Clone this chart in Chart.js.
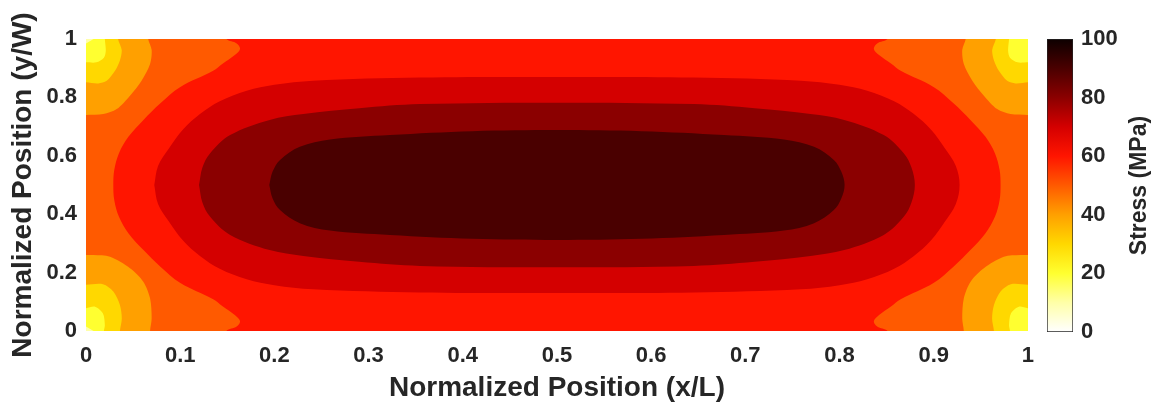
<!DOCTYPE html>
<html>
<head>
<meta charset="utf-8">
<title>Stress contour</title>
<script src="https://cdn.jsdelivr.net/npm/chart.js@4.4.0/dist/chart.umd.min.js"></script>
<style>
  html, body { margin: 0; padding: 0; background: #fff; }
  #wrap { position: relative; width: 1162px; height: 405px; }
  #plotBox { position: absolute; left: 0; top: 0; }
  #barBox { position: absolute; left: 1040px; top: 0; }
</style>
</head>
<body>
<div id="wrap">
  <div id="plotBox"><canvas id="contour" width="1046" height="405"></canvas></div>
  <div id="barBox"><canvas id="colorbar" width="122" height="405"></canvas></div>
</div>
<script>
// Tick labels
const xTickLabels = ['0', '0.1', '0.2', '0.3', '0.4', '0.5', '0.6', '0.7', '0.8', '0.9', '1'];
const yTickLabels = ['0', '0.2', '0.4', '0.6', '0.8', '1'];
const cbTickLabels = ['0', '20', '40', '60', '80', '100'];

// Colour scale (stress in MPa -> colour)
const cbStops = [0, 10, 20, 30, 40, 50, 60, 70, 80, 90, 100];
const cbColors = ['#ffffff', '#ffffa8', '#ffff30', '#ffd800', '#ffa000', '#ff5a00',
                  '#ff1500', '#d40000', '#8b0000', '#4a0000', '#0d0000'];

// Contour regions, [x/L, y/W] pairs
// level 50 band covers the whole plate
const band50 = [[-0.02, -0.03], [1.02, -0.03], [1.02, 1.03], [-0.02, 1.03]];

const band60 = [[0.145, 1.03], [0.855, 1.03], [0.851, 1], [0.840, 0.985], [0.8365, 0.966], [0.842, 0.945],
  [0.855, 0.915], [0.865, 0.891], [0.9002, 0.835], [0.921, 0.780], [0.939, 0.723], [0.955, 0.665],
  [0.965, 0.609], [0.970, 0.551], [0.971, 0.5], [0.970, 0.449], [0.965, 0.391], [0.955, 0.335],
  [0.939, 0.277], [0.921, 0.220], [0.9002, 0.165], [0.865, 0.109], [0.855, 0.085], [0.842, 0.055],
  [0.8365, 0.034], [0.840, 0.015], [0.851, 0], [0.855, -0.03], [0.145, -0.03], [0.149, 0],
  [0.160, 0.015], [0.1635, 0.034], [0.158, 0.055], [0.145, 0.085], [0.135, 0.109], [0.0998, 0.165],
  [0.079, 0.220], [0.061, 0.277], [0.045, 0.335], [0.035, 0.391], [0.030, 0.449], [0.029, 0.5],
  [0.030, 0.551], [0.035, 0.609], [0.045, 0.665], [0.061, 0.723], [0.079, 0.780], [0.0998, 0.835],
  [0.135, 0.891], [0.145, 0.915], [0.158, 0.945], [0.1635, 0.966], [0.160, 0.985], [0.149, 1],
  [0.145, 1.03]];

const band70 = [[0.0725, 0.5], [0.0765, 0.565], [0.088, 0.625], [0.103, 0.69], [0.121, 0.743],
  [0.142, 0.787], [0.1706, 0.823], [0.20, 0.843], [0.241, 0.857], [0.3546, 0.868], [0.5, 0.870],
  [0.6454, 0.868], [0.759, 0.857], [0.80, 0.843], [0.8294, 0.823], [0.858, 0.787], [0.879, 0.743],
  [0.897, 0.69], [0.912, 0.625], [0.9235, 0.565], [0.9275, 0.5], [0.9235, 0.435], [0.912, 0.375],
  [0.897, 0.31], [0.879, 0.257], [0.858, 0.213], [0.8294, 0.177], [0.80, 0.157], [0.759, 0.143],
  [0.6454, 0.132], [0.5, 0.130], [0.3546, 0.132], [0.241, 0.143], [0.20, 0.157], [0.1706, 0.177],
  [0.142, 0.213], [0.121, 0.257], [0.103, 0.31], [0.088, 0.375], [0.0765, 0.435], [0.0725, 0.5]];

const band80 = [[0.120, 0.5], [0.1236, 0.56], [0.1316, 0.608], [0.153, 0.671], [0.195, 0.723],
  [0.2307, 0.743], [0.29, 0.763], [0.3546, 0.777], [0.5, 0.782], [0.6454, 0.777], [0.71, 0.763],
  [0.7693, 0.743], [0.805, 0.723], [0.847, 0.671], [0.8684, 0.608], [0.8764, 0.56], [0.880, 0.5],
  [0.8764, 0.44], [0.8684, 0.392], [0.847, 0.329], [0.805, 0.277], [0.7693, 0.257], [0.71, 0.237],
  [0.6454, 0.223], [0.5, 0.218], [0.3546, 0.223], [0.29, 0.237], [0.2307, 0.257], [0.195, 0.277],
  [0.153, 0.329], [0.1316, 0.392], [0.1236, 0.44], [0.120, 0.5]];

const band90 = [[0.1946, 0.5], [0.198, 0.545], [0.206, 0.586], [0.227, 0.631], [0.259, 0.656],
  [0.3227, 0.671], [0.41, 0.684], [0.5, 0.688], [0.59, 0.684], [0.6773, 0.671], [0.741, 0.656],
  [0.773, 0.631], [0.794, 0.586], [0.802, 0.545], [0.8054, 0.5], [0.802, 0.455], [0.794, 0.414],
  [0.773, 0.369], [0.741, 0.344], [0.6773, 0.329], [0.59, 0.316], [0.5, 0.312], [0.41, 0.316],
  [0.3227, 0.329], [0.259, 0.344], [0.227, 0.369], [0.206, 0.414], [0.198, 0.455], [0.1946, 0.5]];

// low-stress pockets in the four corners
const band40TL = [[-0.02, 1.03], [0.066, 1.03], [0.066, 1], [0.0697, 0.962], [0.068, 0.914], [0.059, 0.857],
  [0.0467, 0.806], [0.0326, 0.760], [0.0184, 0.743], [0, 0.740], [-0.02, 0.740]];
const band40TR = [[1.02, 1.03], [0.934, 1.03], [0.934, 1], [0.9303, 0.962], [0.932, 0.914], [0.941, 0.857],
  [0.9533, 0.806], [0.9674, 0.760], [0.9816, 0.743], [1, 0.740], [1.02, 0.740]];
const band40BL = [[-0.02, -0.03], [0.068, -0.03], [0.068, 0], [0.0697, 0.0434], [0.068, 0.112],
  [0.0608, 0.169], [0.0467, 0.215], [0.0255, 0.254], [0.0078, 0.26], [-0.02, 0.26]];
const band40BR = [[1.02, -0.03], [0.932, -0.03], [0.932, 0], [0.9303, 0.0434], [0.932, 0.112],
  [0.9392, 0.169], [0.9533, 0.215], [0.9745, 0.254], [0.9922, 0.26], [1.02, 0.26]];

const band30TL = [[-0.02, 1.03], [0.034, 1.03], [0.034, 1], [0.0379, 0.962], [0.036, 0.926], [0.0308, 0.891],
  [0.022, 0.857], [0.013, 0.848], [0, 0.852], [-0.02, 0.852]];
const band30TR = [[1.02, 1.03], [0.966, 1.03], [0.966, 1], [0.9621, 0.962], [0.964, 0.926], [0.9692, 0.891],
  [0.978, 0.857], [0.987, 0.848], [1, 0.852], [1.02, 0.852]];
const band30BL = [[-0.02, -0.03], [0.036, -0.03], [0.036, 0], [0.038, 0.043], [0.036, 0.089], [0.029, 0.135],
  [0.018, 0.160], [0, 0.158], [-0.02, 0.158]];
const band30BR = [[1.02, -0.03], [0.964, -0.03], [0.964, 0], [0.962, 0.043], [0.964, 0.089], [0.971, 0.135],
  [0.982, 0.160], [1, 0.158], [1.02, 0.158]];

const band20TL = [[-0.02, 1.03], [0.02, 1.03], [0.02, 1], [0.021, 0.96], [0.019, 0.936], [0.011, 0.92],
  [0, 0.92], [-0.02, 0.92]];
const band20TR = [[1.02, 1.03], [0.98, 1.03], [0.98, 1], [0.979, 0.96], [0.981, 0.936], [0.989, 0.92],
  [1, 0.92], [1.02, 0.92]];
const band20BL = [[-0.02, -0.03], [0.019, -0.03], [0.019, 0], [0.020, 0.02], [0.018, 0.06], [0.0096, 0.083],
  [0, 0.078], [-0.02, 0.078]];
const band20BR = [[1.02, -0.03], [0.981, -0.03], [0.981, 0], [0.980, 0.02], [0.982, 0.06], [0.9904, 0.083],
  [1, 0.078], [1.02, 0.078]];

const band10TL = [[-0.02, 1.03], [0.008, 1.03], [0.008, 1], [0, 0.985], [-0.02, 0.985]];
const band10BL = [[-0.02, -0.03], [0.008, -0.03], [0.008, 0], [0, 0.015], [-0.02, 0.015]];

const textColor = '#262626';
const fontFamily = "'Liberation Sans', Arial, Helvetica, sans-serif";

function levelColor(level) {
    return cbColors[cbStops.indexOf(level)];
}

// one filled contour band as a scatter dataset
function region(points, level, tension) {
    return {
        data: points.map(p => ({x: p[0], y: p[1]})),
        showLine: true,
        fill: 'shape',
        backgroundColor: levelColor(level),
        borderColor: levelColor(level),
        borderWidth: 0,
        pointRadius: 0,
        tension: tension,
        clip: 0
    };
}

// painting order: first entry at the bottom
const regions = [
    region(band50, 50, 0),
    region(band60, 60, 0.35),
    region(band70, 70, 0.35),
    region(band80, 80, 0.35),
    region(band90, 90, 0.35),
    region(band40TL, 40, 0.3), region(band40TR, 40, 0.3), region(band40BL, 40, 0.3), region(band40BR, 40, 0.3),
    region(band30TL, 30, 0.3), region(band30TR, 30, 0.3), region(band30BL, 30, 0.3), region(band30BR, 30, 0.3),
    region(band20TL, 20, 0.3), region(band20TR, 20, 0.3), region(band20BL, 20, 0.3), region(band20BR, 20, 0.3),
    region(band10TL, 10, 0), region(band10BL, 10, 0)
];
regions.forEach((ds, i) => { ds.order = regions.length - i; });

const tickFont = {family: fontFamily, size: 22, weight: 'bold'};
const titleFont = {family: fontFamily, size: 28, weight: 'bold'};

new Chart(document.getElementById('contour'), {
    type: 'scatter',
    data: { datasets: regions },
    options: {
        responsive: false,
        animation: false,
        events: [],
        layout: { padding: {top: 39, right: 0, bottom: 0, left: 0} },
        plugins: {
            legend: { display: false },
            tooltip: { enabled: false }
        },
        scales: {
            x: {
                type: 'linear',
                min: 0,
                max: 1,
                afterFit: function(scale) { scale.height = 74; },
                grid: { display: false, drawTicks: false },
                border: { display: false },
                ticks: {
                    stepSize: 0.1,
                    padding: 12,
                    maxRotation: 0,
                    color: textColor,
                    font: tickFont,
                    callback: (value, index) => xTickLabels[index]
                },
                title: {
                    display: true,
                    text: 'Normalized Position (x/L)',
                    color: textColor,
                    font: titleFont,
                    padding: {top: 0, bottom: 0}
                }
            },
            y: {
                type: 'linear',
                min: 0,
                max: 1,
                afterFit: function(scale) { scale.width = 86; },
                grid: { display: false, drawTicks: false },
                border: { display: false },
                ticks: {
                    stepSize: 0.2,
                    padding: 9,
                    color: textColor,
                    font: tickFont,
                    callback: (value, index) => yTickLabels[index]
                },
                title: {
                    display: true,
                    text: 'Normalized Position (y/W)',
                    color: textColor,
                    font: titleFont,
                    padding: {top: 6, bottom: 0}
                }
            }
        }
    }
});

// Colour bar
function gradientFill(context) {
    const chart = context.chart;
    if (!chart.chartArea) return cbColors[0];
    const yScale = chart.scales.y;
    const g = chart.ctx.createLinearGradient(0, yScale.getPixelForValue(0), 0, yScale.getPixelForValue(100));
    cbStops.forEach((v, i) => g.addColorStop(v / 100, cbColors[i]));
    return g;
}

const colorbarTitle = {
    id: 'colorbarTitle',
    afterDraw(chart) {
        const s = chart.scales.y;
        const ctx = chart.ctx;
        ctx.save();
        ctx.translate(chart.width - 22, (s.top + s.bottom) / 2);
        ctx.rotate(-Math.PI / 2);
        ctx.textAlign = 'center';
        ctx.textBaseline = 'middle';
        ctx.fillStyle = textColor;
        ctx.font = 'bold 23px ' + fontFamily;
        ctx.fillText('Stress (MPa)', 0, 0);
        ctx.restore();
    }
};

new Chart(document.getElementById('colorbar'), {
    type: 'bar',
    data: {
        labels: ['Stress'],
        datasets: [{
            data: [[cbStops[0], cbStops[cbStops.length - 1]]],
            backgroundColor: gradientFill,
            borderColor: textColor,
            borderWidth: 1,
            borderSkipped: false,
            barPercentage: 1,
            categoryPercentage: 1
        }]
    },
    options: {
        responsive: false,
        animation: false,
        events: [],
        layout: { padding: {top: 39, right: 0, bottom: 73, left: 7} },
        plugins: {
            legend: { display: false },
            tooltip: { enabled: false }
        },
        scales: {
            x: { display: false },
            y: {
                position: 'right',
                min: 0,
                max: 100,
                afterFit: function(scale) { scale.width = 89; },
                grid: { display: false, drawTicks: false },
                border: { display: false },
                ticks: {
                    stepSize: 20,
                    padding: 8,
                    color: textColor,
                    font: tickFont,
                    callback: (value, index) => cbTickLabels[index]
                }
            }
        }
    },
    plugins: [colorbarTitle]
});
</script>
</body>
</html>
